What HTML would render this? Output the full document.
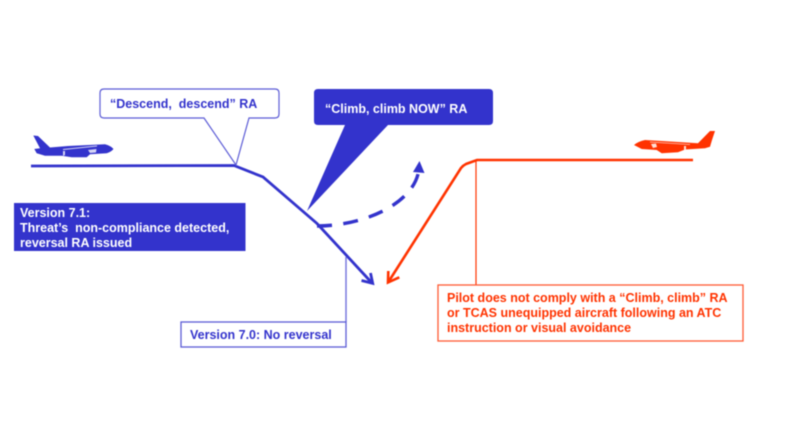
<!DOCTYPE html>
<html>
<head>
<meta charset="utf-8">
<style>
html,body{margin:0;padding:0;background:#fff;width:800px;height:427px;overflow:hidden}
svg{display:block;filter:blur(0.4px)}
text{font-family:"Liberation Sans",sans-serif;font-weight:bold;font-size:12.5px;white-space:pre}
</style>
</head>
<body>
<svg width="800" height="427" viewBox="0 0 800 427" xmlns="http://www.w3.org/2000/svg">
<rect width="800" height="427" fill="#fff"/>

<!-- Blue trajectory -->
<polyline points="31,166 234,165.5 263,177 317,223.5 372,283" fill="none" stroke="#3333cc" stroke-width="2.8"/>
<polyline points="361.5,280.5 372.7,283.3 370.5,273" fill="none" stroke="#3333cc" stroke-width="2.8"/>

<!-- Dashed reversal -->
<path d="M317,226 C362,226 412,205 418.5,172" fill="none" stroke="#3333cc" stroke-width="3.4" stroke-dasharray="15,11.4"/>
<polygon points="419.5,161 413,172 424.5,173" fill="#3333cc"/>

<!-- Red trajectory -->
<path d="M693,160 H477 L466,164 Q463,165.5 461,168 L389,281" fill="none" stroke="#ff3300" stroke-width="2.6"/>
<polyline points="388.3,271 388,282.5 399.3,277.3" fill="none" stroke="#ff3300" stroke-width="2.6"/>

<!-- Descend callout -->
<path d="M104,89 H275 Q279,89 279,93 V114 Q279,118 275,118 H249 L236,165 L204,118 H104 Q100,118 100,114 V93 Q100,89 104,89 Z" fill="#fff" stroke="#5c5cd6" stroke-width="1.2"/>
<text x="110" y="108" fill="#3333cc" xml:space="preserve">“Descend,  descend” RA</text>

<!-- Climb callout -->
<path d="M318,89 H489 Q493,89 493,93 V121 Q493,125 489,125 H388 L307,211 L345,125 H318 Q314,125 314,121 V93 Q314,89 318,89 Z" fill="#3333cc"/>
<text x="325" y="113" fill="#fff" xml:space="preserve">“Climb, climb NOW” RA</text>

<!-- Version 7.1 -->
<rect x="14" y="203" width="231.5" height="48" fill="#3333cc"/>
<text x="20" y="217" fill="#fff">Version 7.1:</text>
<text x="20" y="232" fill="#fff" xml:space="preserve">Threat’s  non-compliance detected,</text>
<text x="20" y="247" fill="#fff">reversal RA issued</text>

<!-- Version 7.0 -->
<line x1="346" y1="257" x2="346" y2="322" stroke="#6f6fdc" stroke-width="1.4"/>
<rect x="181" y="322" width="165" height="25" fill="#fff" stroke="#5c5cd6" stroke-width="1.3"/>
<text x="190" y="339" fill="#3333cc">Version 7.0: No reversal</text>

<!-- Pilot box -->
<line x1="476" y1="160" x2="476" y2="285" stroke="#ff3300" stroke-width="1.2"/>
<rect x="438" y="285" width="305" height="56" fill="#fff" stroke="#ff5a33" stroke-width="1.3"/>
<text x="447" y="302" fill="#ff3300">Pilot does not comply with a “Climb, climb” RA</text>
<text x="447" y="317" fill="#ff3300">or TCAS unequipped aircraft following an ATC</text>
<text x="447" y="332" fill="#ff3300">instruction or visual avoidance</text>

<!-- Blue plane -->
<path d="M33.3,135.5 L38,136 L50,147.5 L68,146 L105,144.3 Q111,146 113.5,149 Q111,152 106.7,153.3 L90,154.3 L86.7,157.3 L71.7,157.3 L61.7,155.7 L45,155.7 L36.7,153.3 L34.3,149 L40,148.3 Z" fill="#3333cc"/>
<path d="M63,149.5 L97,146" stroke="#d5d5f5" stroke-width="0.9" fill="none"/>
<path d="M63,151 L65,151 L65,155 L63,156 Z M88,150 L96.5,149 L96,152.5 L90,153 Z" fill="#d5d5f5"/>

<!-- Red plane -->
<path d="M634,145 Q638,141.5 645,140 L698,143.3 L710,131 L715,131 L712,140 L710,146.7 L705,148.3 L685,149.5 L678,152.3 L661.7,153.3 L656.7,150 L641.7,149 Z" fill="#ff3300"/>
<path d="M650,142 L690,144.5" stroke="#ffc9ba" stroke-width="0.8" fill="none"/>
<path d="M651,144 L656,143.5 L657,147 L653,148 Z M684,146 L686,146 L686,150 L684,150 Z" fill="#ffe0d8"/>
</svg>
</body>
</html>
